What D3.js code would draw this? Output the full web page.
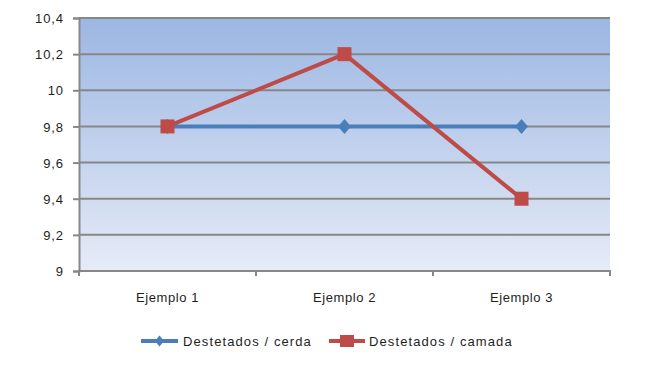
<!DOCTYPE html>
<html><head><meta charset="utf-8">
<script src="https://cdn.jsdelivr.net/npm/d3@7/dist/d3.min.js"></script>
<style>body{margin:0;background:#fff}svg{display:block}text{font-family:"Liberation Sans",Arial,sans-serif}</style>
</head><body><svg id="c" width="650" height="366"></svg>
<script>
const categories = ["Ejemplo 1", "Ejemplo 2", "Ejemplo 3"];
const cerda = [9.8, 9.8, 9.8];
const camada = [9.8, 10.2, 9.4];
const yTicks = [9, 9.2, 9.4, 9.6, 9.8, 10, 10.2, 10.4];
const seriesNames = ["Destetados / cerda", "Destetados / camada"];

const svg = d3.select("#c");
const L = 79, R = 610, T = 18, B = 271;
const x = d3.scaleBand().domain(categories).range([L, R]);
const y = d3.scaleLinear().domain([9, 10.4]).range([B, T]);
const fmt = v => String(v).replace(".", ",");
const textCol = "#1e1e1e", gridCol = "#878787";

const defs = svg.append("defs");
const g = defs.append("linearGradient").attr("id", "bg").attr("x1", 0).attr("y1", 0).attr("x2", 0).attr("y2", 1);
g.append("stop").attr("offset", "0%").attr("stop-color", "#9cb7e3");
g.append("stop").attr("offset", "100%").attr("stop-color", "#e6ebf7");
svg.append("rect").attr("x", L).attr("y", T).attr("width", R - L).attr("height", B - T).attr("fill", "url(#bg)");

// gridlines
svg.append("g").selectAll("line").data(yTicks).join("line")
  .attr("x1", L).attr("x2", R).attr("y1", d => y(d)).attr("y2", d => y(d))
  .attr("stroke", gridCol).attr("stroke-width", 2);

// y axis
const ya = svg.append("g").attr("transform", `translate(${L},0)`)
  .call(d3.axisLeft(y).tickValues(yTicks).tickFormat(fmt).tickSize(6).tickPadding(9));
ya.select(".domain").attr("stroke", gridCol).attr("stroke-width", 2);
ya.selectAll(".tick line").attr("stroke", gridCol).attr("stroke-width", 2);
ya.selectAll("text").attr("font-size", 13).attr("fill", textCol).style("letter-spacing", "0.9px").attr("dy", "0.36em");

// x axis
const xa = svg.append("g").attr("transform", `translate(0,${B})`)
  .call(d3.axisBottom(x).tickSize(0).tickPadding(0));
xa.select(".domain").attr("stroke", gridCol).attr("stroke-width", 2).attr("d", `M${L},5V0H${R}V5`);
xa.selectAll("text").attr("font-size", 13).attr("fill", textCol).style("letter-spacing", "0.6px")
  .attr("dy", 0).attr("y", 31);
svg.append("g").selectAll("line").data(categories.slice(1)).join("line")
  .attr("x1", d => x(d)).attr("x2", d => x(d)).attr("y1", B).attr("y2", B + 5)
  .attr("stroke", gridCol).attr("stroke-width", 2);

const cx = d => x(d) + x.bandwidth() / 2;
const line = d3.line().x((d, i) => cx(categories[i])).y(d => y(d));
const diamond = (w, h) => `M0,${-h}L${w},0L0,${h}L${-w},0Z`;

const blue = "#4a7ebb", red = "#be4b48";
svg.append("path").datum(cerda).attr("d", line).attr("fill", "none").attr("stroke", blue).attr("stroke-width", 4);
svg.append("g").selectAll("path").data(cerda).join("path")
  .attr("d", diamond(6.5, 7.5))
  .attr("transform", (d, i) => `translate(${cx(categories[i])},${y(d)})`)
  .attr("fill", blue);
svg.append("path").datum(camada).attr("d", line).attr("fill", "none").attr("stroke", red).attr("stroke-width", 4);
svg.append("g").selectAll("rect").data(camada).join("rect")
  .attr("x", (d, i) => cx(categories[i]) - 7).attr("y", d => y(d) - 7)
  .attr("width", 14).attr("height", 14).attr("fill", red);

// legend
const ly = 341;
const leg = svg.append("g");
leg.append("line").attr("x1", 141).attr("x2", 178).attr("y1", ly).attr("y2", ly).attr("stroke", blue).attr("stroke-width", 4);
leg.append("path").attr("d", diamond(4.5, 5.5)).attr("transform", `translate(159.5,${ly})`).attr("fill", blue);
leg.append("text").attr("x", 183).attr("y", ly + 5).attr("font-size", 13).attr("fill", textCol)
  .style("letter-spacing", "1.1px").text(seriesNames[0]);
leg.append("line").attr("x1", 329).attr("x2", 365).attr("y1", ly).attr("y2", ly).attr("stroke", red).attr("stroke-width", 4);
leg.append("rect").attr("x", 340).attr("y", ly - 6).attr("width", 14).attr("height", 12).attr("fill", red);
leg.append("text").attr("x", 369).attr("y", ly + 5).attr("font-size", 13).attr("fill", textCol)
  .style("letter-spacing", "1.1px").text(seriesNames[1]);
</script></body></html>
